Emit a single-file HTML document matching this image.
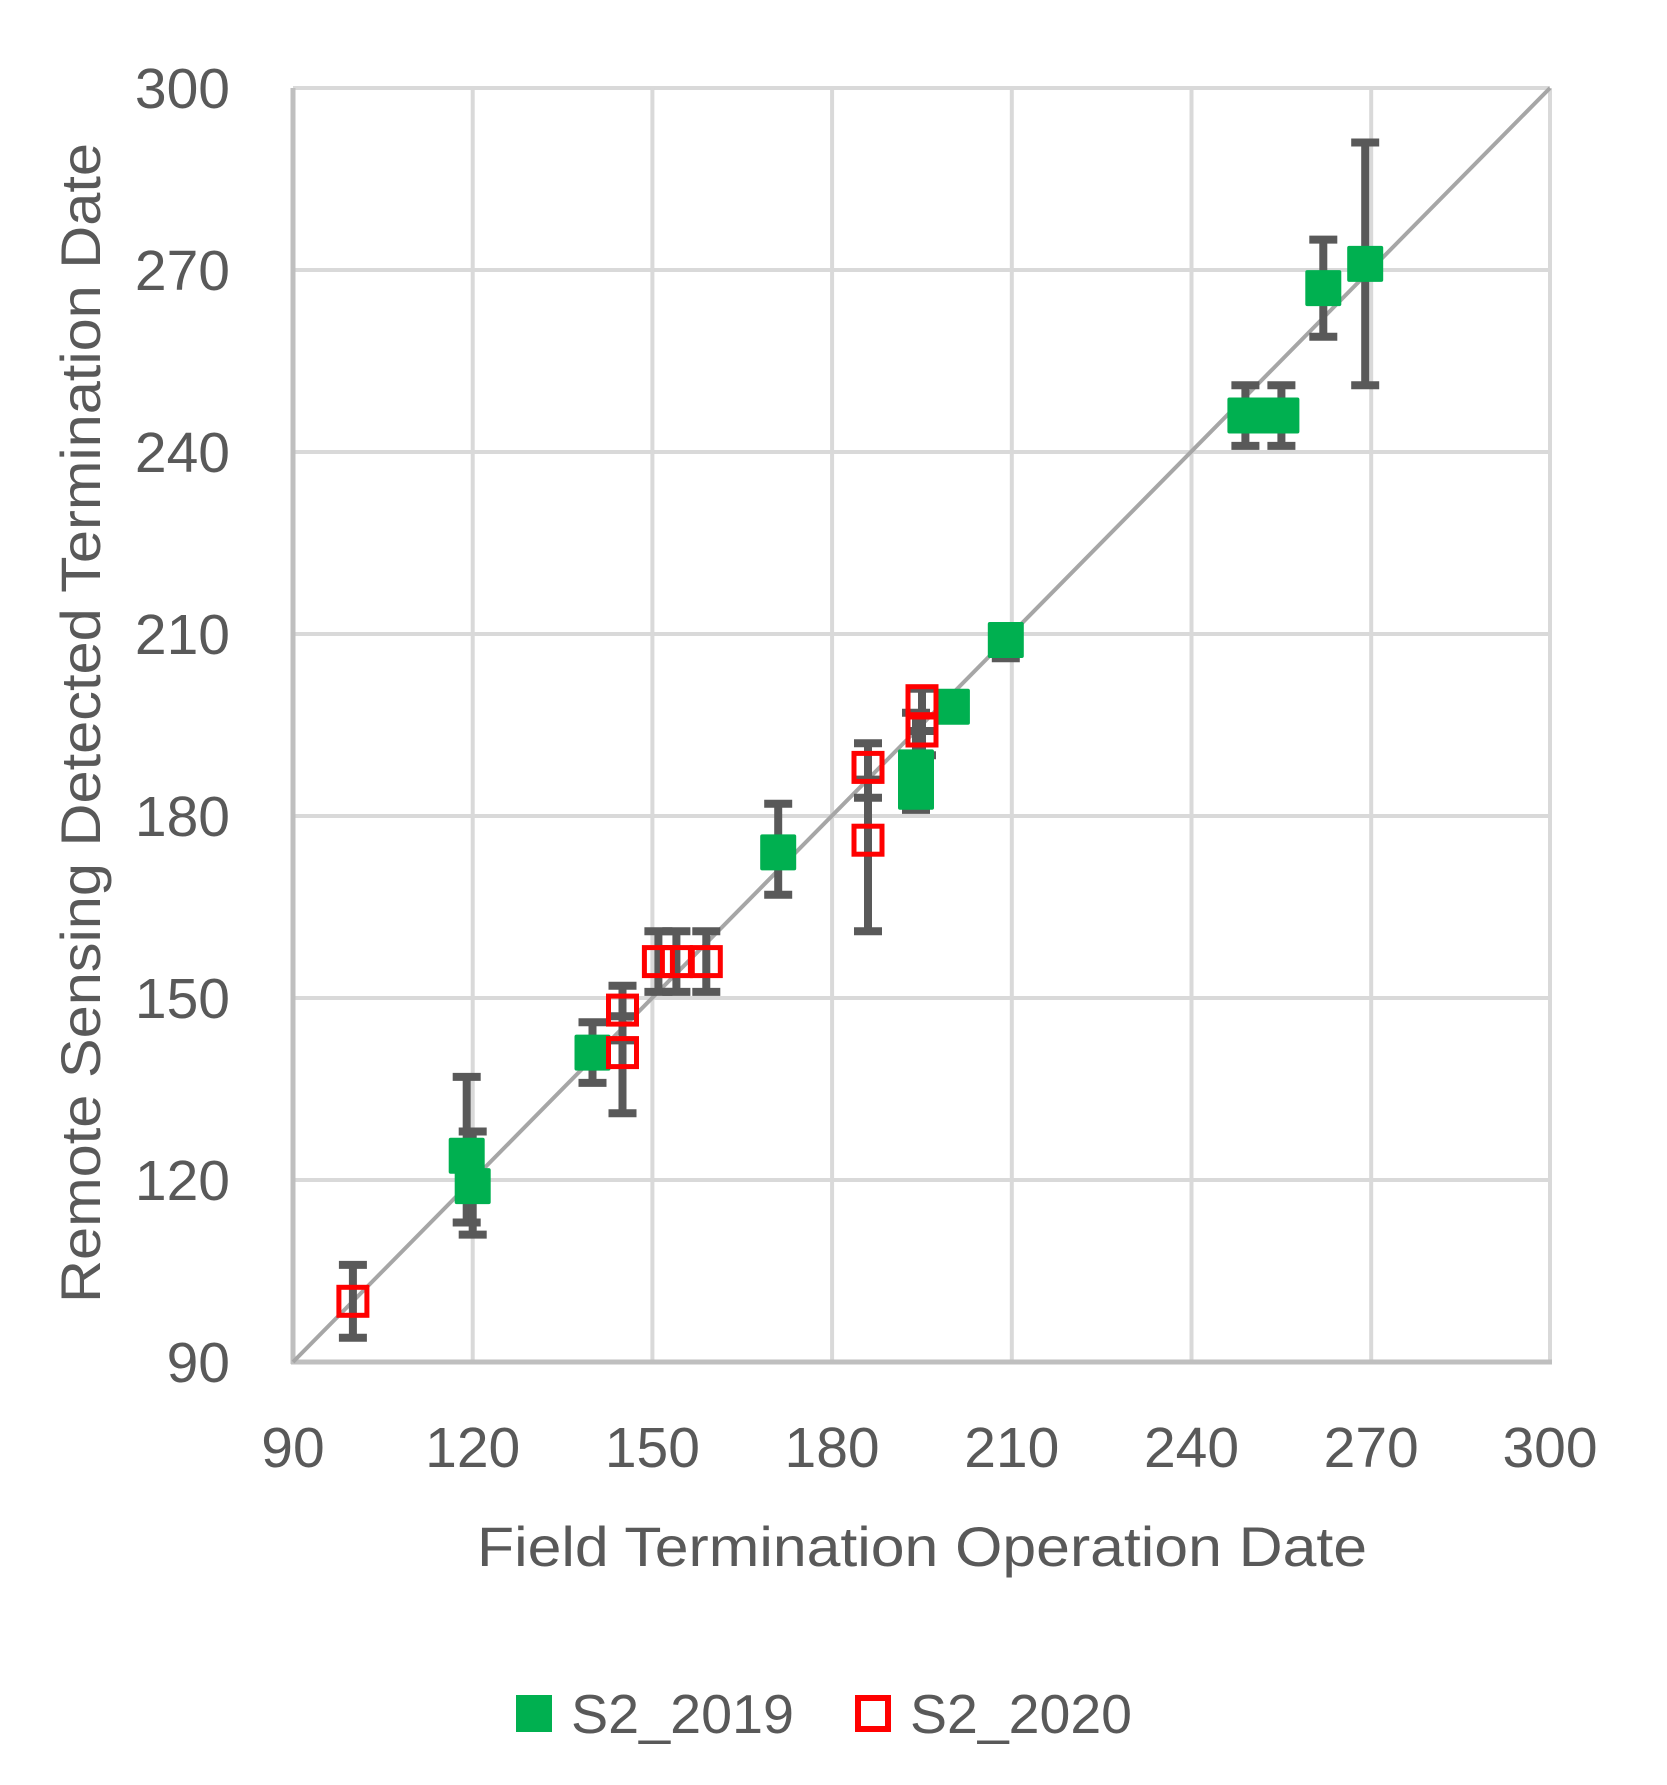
<!DOCTYPE html>
<html><head><meta charset="utf-8"><style>
html,body{margin:0;padding:0;background:#fff;}
svg{display:block;}
text{font-family:"Liberation Sans",sans-serif;fill:#595959;}
</style></head><body>
<svg width="1667" height="1785" viewBox="0 0 1667 1785" xmlns="http://www.w3.org/2000/svg">
<rect width="1667" height="1785" fill="#fff"/>
<g stroke="#d9d9d9" stroke-width="4">
<line x1="293" y1="88" x2="1550" y2="88"/>
<line x1="293" y1="270" x2="1550" y2="270"/>
<line x1="293" y1="452" x2="1550" y2="452"/>
<line x1="293" y1="634" x2="1550" y2="634"/>
<line x1="293" y1="816" x2="1550" y2="816"/>
<line x1="293" y1="998" x2="1550" y2="998"/>
<line x1="293" y1="1180" x2="1550" y2="1180"/>
<line x1="472.7" y1="88" x2="472.7" y2="1362"/>
<line x1="652.4" y1="88" x2="652.4" y2="1362"/>
<line x1="832.1" y1="88" x2="832.1" y2="1362"/>
<line x1="1011.8" y1="88" x2="1011.8" y2="1362"/>
<line x1="1191.5" y1="88" x2="1191.5" y2="1362"/>
<line x1="1371.2" y1="88" x2="1371.2" y2="1362"/>
<line x1="1550" y1="88" x2="1550" y2="1362"/>
</g>
<g stroke="#bfbfbf" stroke-width="5">
<line x1="293" y1="88" x2="293" y2="1364"/>
<line x1="291" y1="1362" x2="1552" y2="1362"/>
</g>
<line x1="293" y1="1362" x2="1550" y2="88" stroke="#a6a6a6" stroke-width="4"/>
<g stroke="#595959" stroke-width="8" fill="none">
<path d="M352.9 1264.9V1337.7M338.9 1264.9H366.9M338.9 1337.7H366.9"/>
<path d="M466.7 1076.9V1222.5M452.7 1076.9H480.7M452.7 1222.5H480.7"/>
<path d="M472.7 1131.5V1234.6M458.7 1131.5H486.7M458.7 1234.6H486.7"/>
<path d="M592.5 1022.2V1082.9M578.5 1022.2H606.5M578.5 1082.9H606.5"/>
<path d="M622.5 985.8V1040.4M608.5 985.8H636.5M608.5 1040.4H636.5"/>
<path d="M622.5 1016.2V1113.3M608.5 1016.2H636.5M608.5 1113.3H636.5"/>
<path d="M658.4 931.2V991.9M644.4 931.2H672.4M644.4 991.9H672.4"/>
<path d="M676.4 931.2V991.9M662.4 931.2H690.4M662.4 991.9H690.4"/>
<path d="M706.3 931.2V991.9M692.3 931.2H720.3M692.3 991.9H720.3"/>
<path d="M778.2 803.8V894.8M764.2 803.8H792.2M764.2 894.8H792.2"/>
<path d="M868 743.2V797.8M854 743.2H882M854 797.8H882"/>
<path d="M868 779.6V931.2M854 779.6H882M854 931.2H882"/>
<path d="M916 712.8V809.9M902 712.8H930M902 809.9H930"/>
<path d="M922 688.6V731M908 688.6H936M908 731H936"/>
<path d="M922 688.6V755.3M908 688.6H936M908 755.3H936"/>
<path d="M1005.8 627.9V658.2M991.8 627.9H1019.8M991.8 658.2H1019.8"/>
<path d="M1245.4 385.2V445.9M1231.4 385.2H1259.4M1231.4 445.9H1259.4"/>
<path d="M1281.4 385.2V445.9M1267.4 385.2H1295.4M1267.4 445.9H1295.4"/>
<path d="M1323.3 239.6V336.7M1309.3 239.6H1337.3M1309.3 336.7H1337.3"/>
<path d="M1365.2 142.5V385.2M1351.2 142.5H1379.2M1351.2 385.2H1379.2"/>
</g>
<g fill="#00b050">
<rect x="448.7" y="1137.7" width="36" height="36" rx="2"/>
<rect x="454.7" y="1168.1" width="36" height="36" rx="2"/>
<rect x="574.5" y="1034.6" width="36" height="36" rx="2"/>
<rect x="760.2" y="834.4" width="36" height="36" rx="2"/>
<rect x="898" y="749.4" width="36" height="36" rx="2"/>
<rect x="898" y="773.7" width="36" height="36" rx="2"/>
<rect x="933.9" y="688.8" width="36" height="36" rx="2"/>
<rect x="987.8" y="622" width="36" height="36" rx="2"/>
<rect x="1227.4" y="397.5" width="36" height="36" rx="2"/>
<rect x="1245.4" y="397.5" width="36" height="36" rx="2"/>
<rect x="1263.4" y="397.5" width="36" height="36" rx="2"/>
<rect x="1305.3" y="270.1" width="36" height="36" rx="2"/>
<rect x="1347.2" y="245.9" width="36" height="36" rx="2"/>
</g>
<g fill="none" stroke="#ff0000" stroke-width="5">
<rect x="338.9" y="1287.3" width="28" height="28"/>
<rect x="608.5" y="996.1" width="28" height="28"/>
<rect x="608.5" y="1038.6" width="28" height="28"/>
<rect x="644.4" y="947.6" width="28" height="28"/>
<rect x="662.4" y="947.6" width="28" height="28"/>
<rect x="692.3" y="947.6" width="28" height="28"/>
<rect x="854" y="753.4" width="28" height="28"/>
<rect x="854" y="826.2" width="28" height="28"/>
<rect x="908" y="686.7" width="28" height="28"/>
<rect x="908" y="717" width="28" height="28"/>
</g>
<g font-size="57" text-anchor="end">
<text x="230" y="108">300</text>
<text x="230" y="290">270</text>
<text x="230" y="472">240</text>
<text x="230" y="654">210</text>
<text x="230" y="836">180</text>
<text x="230" y="1018">150</text>
<text x="230" y="1200">120</text>
<text x="230" y="1382">90</text>
</g>
<g font-size="57" text-anchor="middle">
<text x="293" y="1467">90</text>
<text x="472.7" y="1467">120</text>
<text x="652.4" y="1467">150</text>
<text x="832.1" y="1467">180</text>
<text x="1011.8" y="1467">210</text>
<text x="1191.5" y="1467">240</text>
<text x="1371.2" y="1467">270</text>
<text x="1550" y="1467">300</text>
</g>
<text x="922" y="1566" font-size="56" text-anchor="middle" textLength="890" lengthAdjust="spacingAndGlyphs">Field Termination Operation Date</text>
<text transform="translate(100,723) rotate(-90)" font-size="56" text-anchor="middle" textLength="1160" lengthAdjust="spacingAndGlyphs">Remote Sensing Detected Termination Date</text>
<rect x="516" y="1695" width="36" height="37" fill="#00b050"/>
<text x="571" y="1733" font-size="55" textLength="223" lengthAdjust="spacingAndGlyphs">S2_2019</text>
<rect x="858" y="1698" width="30" height="31" fill="none" stroke="#ff0000" stroke-width="6"/>
<text x="910" y="1733" font-size="55" textLength="222" lengthAdjust="spacingAndGlyphs">S2_2020</text>
</svg>
</body></html>
